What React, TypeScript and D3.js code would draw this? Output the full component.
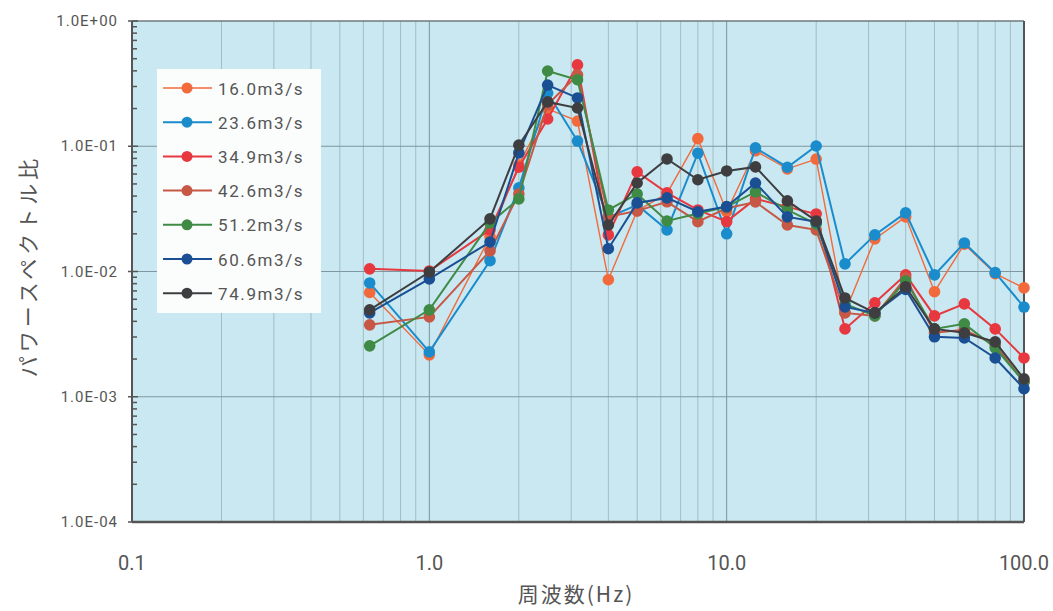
import React from "react";
import * as d3 from "d3";

const width = 1053,
  height = 611;

// 1/3オクターブ中心周波数 (Hz)
const freqs = [0.63, 1.0, 1.6, 2.0, 2.5, 3.15, 4.0, 5.0, 6.3, 8.0, 10, 12.5, 16, 20, 25, 31.5, 40, 50, 63, 80, 100];

const seriesNames = ["16.0m3/s", "23.6m3/s", "34.9m3/s", "42.6m3/s", "51.2m3/s", "60.6m3/s", "74.9m3/s"];
const seriesColors = ["#f26a3b", "#1a8ccc", "#e8383f", "#c65845", "#3f8a45", "#1b4f93", "#3e3e40"];

const q16_0 = [0.0068, 0.00216, 0.019, 0.071, 0.199, 0.159, 0.0086, 0.0305, 0.042, 0.115, 0.03, 0.092, 0.066, 0.079, 0.0047, 0.0182, 0.0273, 0.0069, 0.0165, 0.0096, 0.0074];
const q23_6 = [0.0081, 0.00228, 0.0122, 0.0465, 0.266, 0.11, 0.027, 0.034, 0.0215, 0.088, 0.02, 0.097, 0.068, 0.1005, 0.0115, 0.0196, 0.0294, 0.0094, 0.0169, 0.0098, 0.0052];
const q34_9 = [0.0105, 0.0101, 0.0215, 0.068, 0.165, 0.446, 0.0196, 0.0624, 0.0424, 0.031, 0.025, 0.038, 0.0328, 0.0288, 0.00348, 0.00562, 0.0094, 0.00442, 0.00551, 0.00348, 0.00204];
const q42_6 = [0.00375, 0.00434, 0.0146, 0.0416, 0.215, 0.371, 0.0273, 0.0305, 0.036, 0.025, 0.032, 0.0359, 0.0235, 0.0215, 0.00467, 0.00442, 0.0089, 0.00324, 0.00342, 0.0026, 0.00131];
const q51_2 = [0.00255, 0.00494, 0.0244, 0.038, 0.399, 0.34, 0.031, 0.0416, 0.0253, 0.029, 0.0328, 0.0432, 0.031, 0.024, 0.0055, 0.00442, 0.0084, 0.00348, 0.00382, 0.00246, 0.00131];
const q60_6 = [0.00467, 0.00873, 0.0172, 0.0884, 0.308, 0.243, 0.0152, 0.0353, 0.0387, 0.03, 0.033, 0.0509, 0.0273, 0.025, 0.00522, 0.00467, 0.0072, 0.00301, 0.00295, 0.00204, 0.00116];
const q74_9 = [0.00494, 0.0099, 0.0263, 0.102, 0.226, 0.202, 0.0235, 0.0509, 0.0792, 0.054, 0.0635, 0.0684, 0.0366, 0.0253, 0.00615, 0.00467, 0.00754, 0.00348, 0.00324, 0.00274, 0.00139];

const seriesValues = [q16_0, q23_6, q34_9, q42_6, q51_2, q60_6, q74_9];

const xTickLabels = ["0.1", "1.0", "10.0", "100.0"];
const yTickLabels = ["1.0E+00", "1.0E-01", "1.0E-02", "1.0E-03", "1.0E-04"];

const xTitle = "周波数(Hz)";
const yTitle = "パワースペクトル比";

const left = 132,
  right = 1024,
  top = 21,
  bottom = 522;

export default function App() {
  const x = d3.scaleLog().domain([0.1, 100]).range([left, right]);
  const y = d3.scaleLog().domain([1e-4, 1]).range([bottom, top]);

  const xMajor = [0.1, 1, 10, 100];
  const yMajor = [1, 0.1, 0.01, 0.001, 0.0001];
  const xMinor = x.ticks().filter(v => !xMajor.some(m => Math.abs(m - v) < 1e-9));
  const yMinor = y.ticks().filter(v => !yMajor.some(m => Math.abs(m - v) < 1e-12));

  const line = d3
    .line<number>()
    .x((_, i) => x(freqs[i]))
    .y(d => y(d));

  // 凡例
  const legX = 157,
    legY = 69,
    legW = 164,
    legH = 244,
    legStep = 34.2;

  const labelFont = "Roboto, 'DejaVu Sans', sans-serif";
  const cjkFont = "'Noto Sans CJK JP', 'Noto Sans', sans-serif";

  return (
    <svg width={width} height={height} style={{ position: "absolute", left: 0, top: 0, background: "#fff" }}>
      <rect x={left} y={top} width={right - left} height={bottom - top} fill="#c9e8f1" />

      {/* 補助グリッド */}
      {xMinor.map(v => (
        <line key={"xm" + v} x1={x(v)} x2={x(v)} y1={top} y2={bottom} stroke="#98b2ba" strokeWidth={0.8} />
      ))}
      {xMajor.map(v => (
        <line key={"xM" + v} x1={x(v)} x2={x(v)} y1={top} y2={bottom} stroke="#7a929b" strokeWidth={1} />
      ))}
      {yMajor.map(v => (
        <line key={"yM" + v} x1={left} x2={right} y1={y(v)} y2={y(v)} stroke="#7f979f" strokeWidth={1} />
      ))}

      {/* 枠 */}
      <line x1={left} x2={right} y1={top} y2={top} stroke="#6a6a6a" strokeWidth={1.2} />
      <line x1={right} x2={right} y1={top} y2={bottom} stroke="#555" strokeWidth={2} />
      <line x1={left} x2={right} y1={bottom} y2={bottom} stroke="#555" strokeWidth={2.5} />
      <line x1={left} x2={left} y1={top} y2={bottom} stroke="#555" strokeWidth={2} />

      {/* Y軸目盛 */}
      {yMinor.map(v => (
        <line key={"yt" + v} x1={left} x2={left + 5} y1={y(v)} y2={y(v)} stroke="#555" strokeWidth={1.5} />
      ))}
      {yMajor.map(v => (
        <line key={"yT" + v} x1={left - 4} x2={left + 6} y1={y(v)} y2={y(v)} stroke="#555" strokeWidth={1.5} />
      ))}
      {yMajor.map((v, i) => (
        <text
          key={"yl" + v}
          x={118}
          y={y(v) + 5}
          textAnchor="end"
          fontFamily={labelFont}
          fontSize={15}
          letterSpacing={1}
          fill="#555"
        >
          {yTickLabels[i]}
        </text>
      ))}

      {/* X軸ラベル */}
      {xMajor.map((v, i) => (
        <text
          key={"xl" + v}
          x={x(v)}
          y={570}
          textAnchor="middle"
          fontFamily={labelFont}
          fontSize={20}
          fill="#555"
        >
          {xTickLabels[i]}
        </text>
      ))}

      <text x={576} y={602} textAnchor="middle" fontFamily={cjkFont} fontSize={21} letterSpacing={2} fill="#555">
        {xTitle}
      </text>
      <text
        transform={`translate(36, 266) rotate(-90)`}
        textAnchor="middle"
        fontFamily={cjkFont}
        fontSize={21}
        letterSpacing={4}
        fill="#555"
      >
        {yTitle}
      </text>

      {/* データ系列 */}
      {seriesValues.map((vals, s) => (
        <g key={seriesNames[s]}>
          <path
            d={line(vals) || ""}
            fill="none"
            stroke={seriesColors[s]}
            strokeWidth={s === 0 ? 1.4 : 2}
          />
          {vals.map((v, i) => (
            <circle key={i} cx={x(freqs[i])} cy={y(v)} r={5.8} fill={seriesColors[s]} />
          ))}
        </g>
      ))}

      {/* 凡例 */}
      <rect x={legX} y={legY} width={legW} height={legH} fill="#fbfdfd" />
      {seriesNames.map((name, s) => {
        const ly = legY + 19 + s * legStep;
        return (
          <g key={"lg" + name}>
            <line x1={legX + 6} x2={legX + 55} y1={ly} y2={ly} stroke={seriesColors[s]} strokeWidth={s === 0 ? 1.4 : 2} />
            <circle cx={legX + 30} cy={ly} r={5.5} fill={seriesColors[s]} />
            <text
              x={legX + 61}
              y={ly + 6.5}
              fontFamily={labelFont}
              fontSize={17}
              letterSpacing={1.6}
              fill="#555"
            >
              {name}
            </text>
          </g>
        );
      })}
    </svg>
  );
}
